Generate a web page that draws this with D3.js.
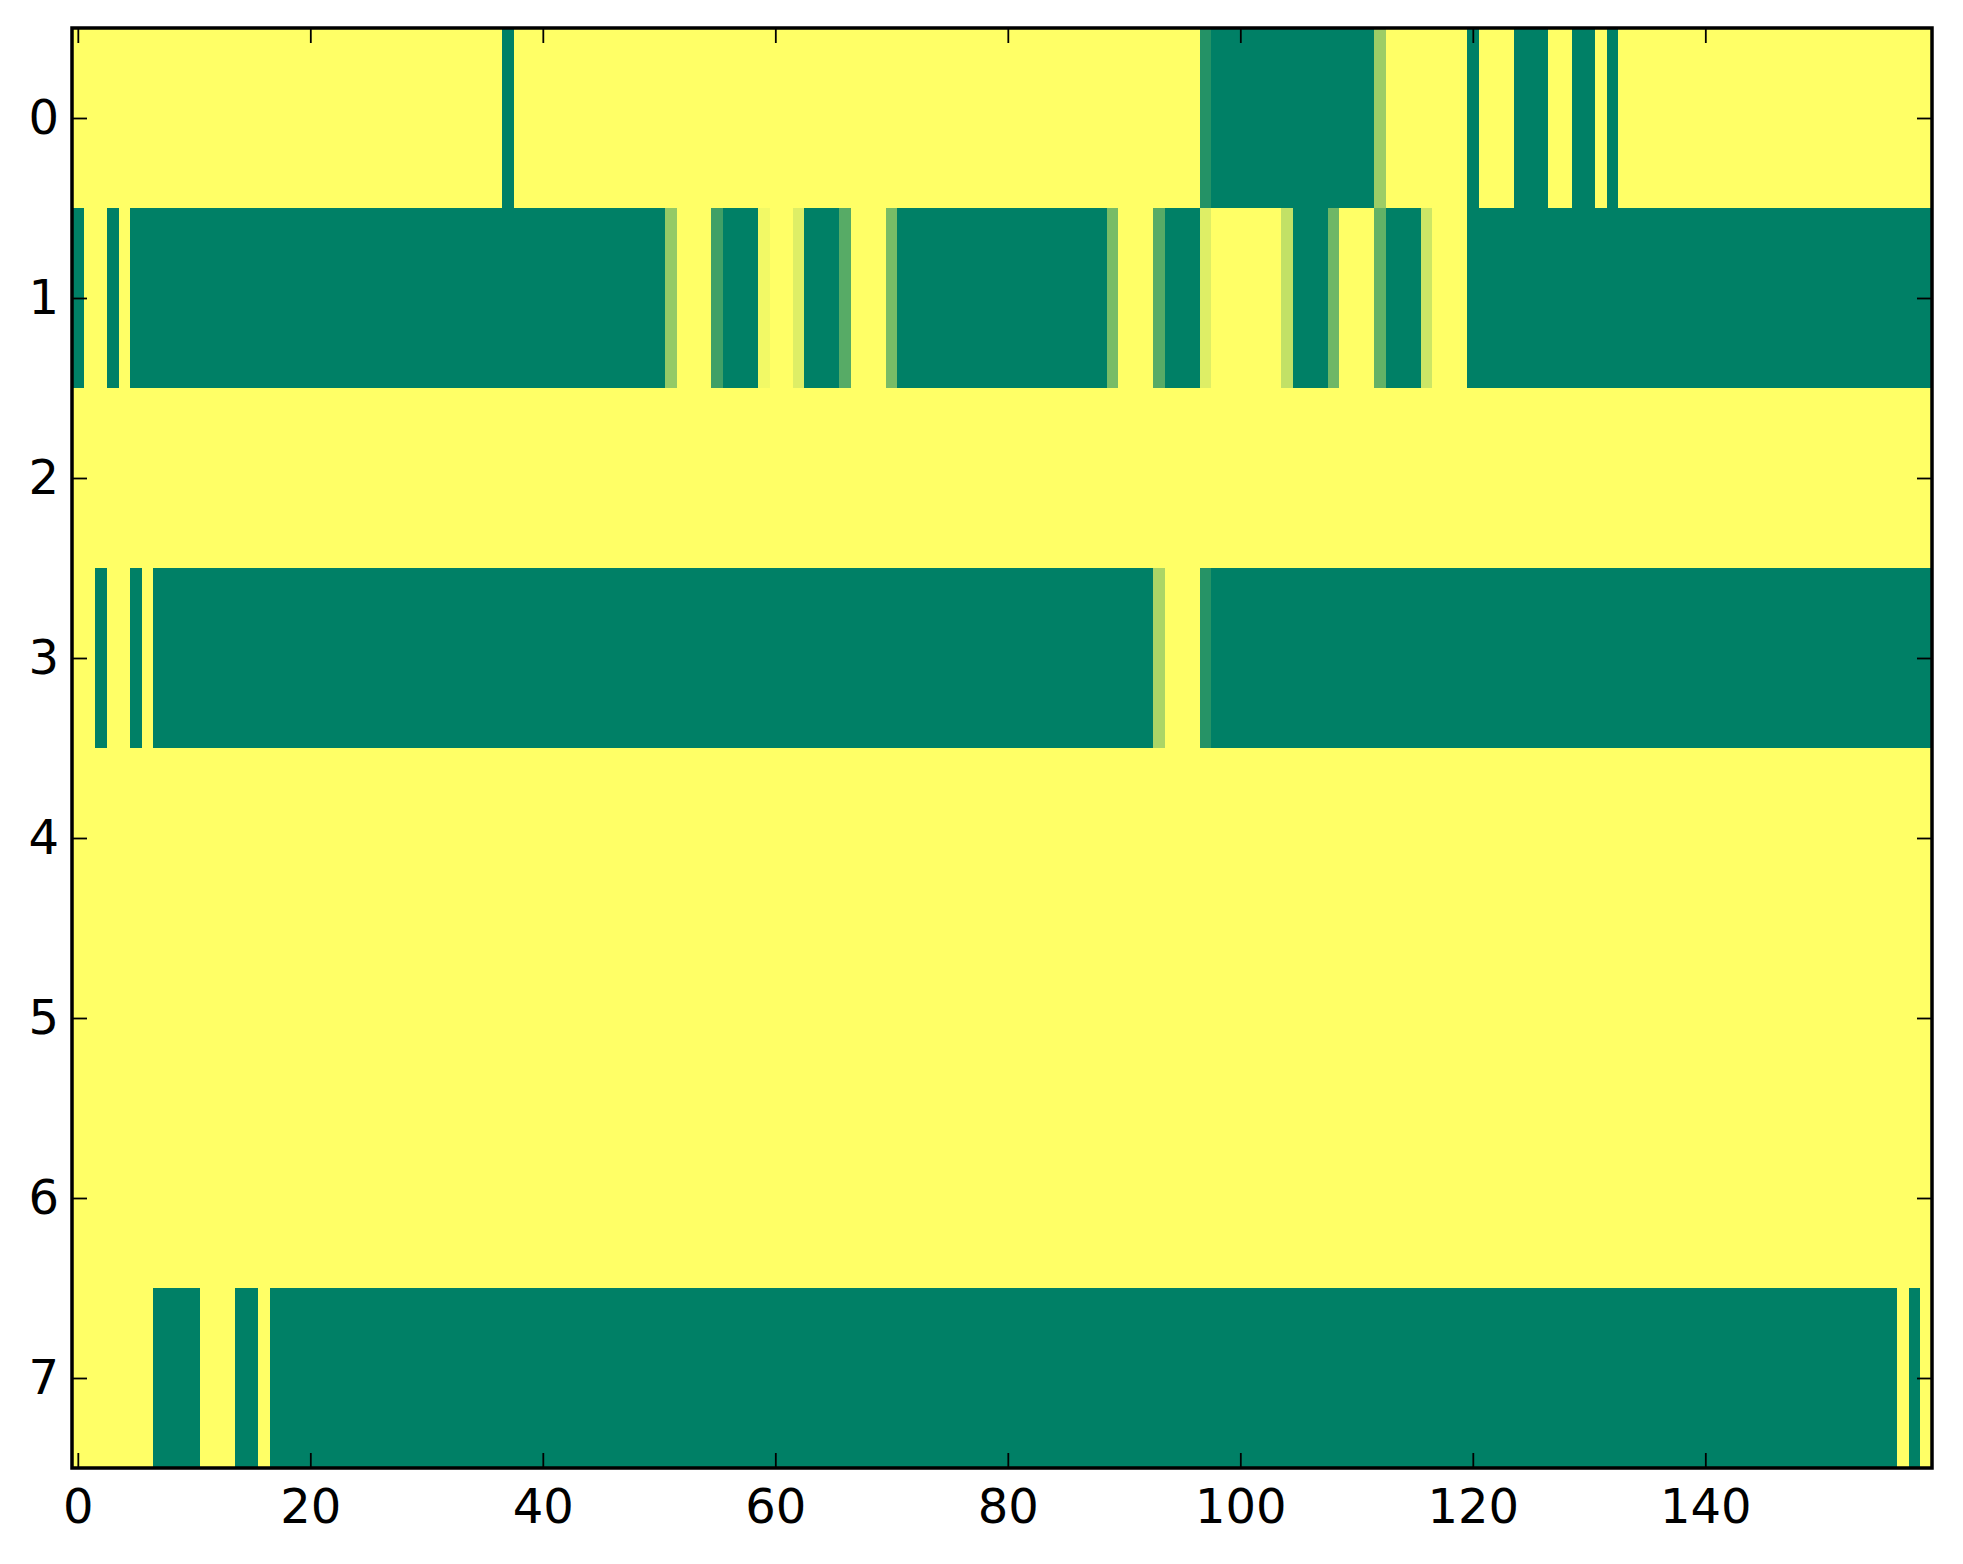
<!DOCTYPE html>
<html>
<head>
<meta charset="utf-8">
<script src="https://cdn.jsdelivr.net/npm/d3@7"></script>
<style>
  html, body { margin: 0; padding: 0; background: #fff; }
  svg { display: block; }
  text { font-family: "DejaVu Sans", sans-serif; }
</style>
</head>
<body>
<svg id="chart" width="1963" height="1564"></svg>
<script>
// ---- data (0 = green, 1 = yellow) ----
const rowLabels = [0, 1, 2, 3, 4, 5, 6, 7];
const xTickValues = [0, 20, 40, 60, 80, 100, 120, 140];
const nCols = 160;

const row0 = [
  1,1,1,1,1,1,1,1,1,1, 1,1,1,1,1,1,1,1,1,1,
  1,1,1,1,1,1,1,1,1,1, 1,1,1,1,1,1,1,0,1,1,
  1,1,1,1,1,1,1,1,1,1, 1,1,1,1,1,1,1,1,1,1,
  1,1,1,1,1,1,1,1,1,1, 1,1,1,1,1,1,1,1,1,1,
  1,1,1,1,1,1,1,1,1,1, 1,1,1,1,1,1,1,0.14,0,0,
  0,0,0,0,0,0,0,0,0,0, 0,0,0.61,1,1,1,1,1,1,1,
  0,1,1,1,0,0,0,1,1,0, 0,1,0,1,1,1,1,1,1,1,
  1,1,1,1,1,1,1,1,1,1, 1,1,1,1,1,1,1,1,1,1
];
const row1 = [
  0,1,1,0,1,0,0,0,0,0, 0,0,0,0,0,0,0,0,0,0,
  0,0,0,0,0,0,0,0,0,0, 0,0,0,0,0,0,0,0,0,0,
  0,0,0,0,0,0,0,0,0,0, 0,0.58,1,1,1,0.25,0,0,0,0.95,
  1,1,0.87,0,0,0,0.34,1,1,1, 0.47,0,0,0,0,0,0,0,0,0,
  0,0,0,0,0,0,0,0,0,0.47, 1,1,1,0.34,0,0,0,0.87,1,1,
  1,1,1,1,0.76,0,0,0,0.43,1, 1,1,0.39,0,0,0,0.8,1,1,1,
  0,0,0,0,0,0,0,0,0,0, 0,0,0,0,0,0,0,0,0,0,
  0,0,0,0,0,0,0,0,0,0, 0,0,0,0,0,0,0,0,0,0
];
const row2 = [
  1,1,1,1,1,1,1,1,1,1, 1,1,1,1,1,1,1,1,1,1,
  1,1,1,1,1,1,1,1,1,1, 1,1,1,1,1,1,1,1,1,1,
  1,1,1,1,1,1,1,1,1,1, 1,1,1,1,1,1,1,1,1,1,
  1,1,1,1,1,1,1,1,1,1, 1,1,1,1,1,1,1,1,1,1,
  1,1,1,1,1,1,1,1,1,1, 1,1,1,1,1,1,1,1,1,1,
  1,1,1,1,1,1,1,1,1,1, 1,1,1,1,1,1,1,1,1,1,
  1,1,1,1,1,1,1,1,1,1, 1,1,1,1,1,1,1,1,1,1,
  1,1,1,1,1,1,1,1,1,1, 1,1,1,1,1,1,1,1,1,1
];
const row3 = [
  1,1,0,1,1,0,1,0,0,0, 0,0,0,0,0,0,0,0,0,0,
  0,0,0,0,0,0,0,0,0,0, 0,0,0,0,0,0,0,0,0,0,
  0,0,0,0,0,0,0,0,0,0, 0,0,0,0,0,0,0,0,0,0,
  0,0,0,0,0,0,0,0,0,0, 0,0,0,0,0,0,0,0,0,0,
  0,0,0,0,0,0,0,0,0,0, 0,0,0,0.67,1,1,1,0.15,0,0,
  0,0,0,0,0,0,0,0,0,0, 0,0,0,0,0,0,0,0,0,0,
  0,0,0,0,0,0,0,0,0,0, 0,0,0,0,0,0,0,0,0,0,
  0,0,0,0,0,0,0,0,0,0, 0,0,0,0,0,0,0,0,0,0
];
const row4 = [
  1,1,1,1,1,1,1,1,1,1, 1,1,1,1,1,1,1,1,1,1,
  1,1,1,1,1,1,1,1,1,1, 1,1,1,1,1,1,1,1,1,1,
  1,1,1,1,1,1,1,1,1,1, 1,1,1,1,1,1,1,1,1,1,
  1,1,1,1,1,1,1,1,1,1, 1,1,1,1,1,1,1,1,1,1,
  1,1,1,1,1,1,1,1,1,1, 1,1,1,1,1,1,1,1,1,1,
  1,1,1,1,1,1,1,1,1,1, 1,1,1,1,1,1,1,1,1,1,
  1,1,1,1,1,1,1,1,1,1, 1,1,1,1,1,1,1,1,1,1,
  1,1,1,1,1,1,1,1,1,1, 1,1,1,1,1,1,1,1,1,1
];
const row5 = [
  1,1,1,1,1,1,1,1,1,1, 1,1,1,1,1,1,1,1,1,1,
  1,1,1,1,1,1,1,1,1,1, 1,1,1,1,1,1,1,1,1,1,
  1,1,1,1,1,1,1,1,1,1, 1,1,1,1,1,1,1,1,1,1,
  1,1,1,1,1,1,1,1,1,1, 1,1,1,1,1,1,1,1,1,1,
  1,1,1,1,1,1,1,1,1,1, 1,1,1,1,1,1,1,1,1,1,
  1,1,1,1,1,1,1,1,1,1, 1,1,1,1,1,1,1,1,1,1,
  1,1,1,1,1,1,1,1,1,1, 1,1,1,1,1,1,1,1,1,1,
  1,1,1,1,1,1,1,1,1,1, 1,1,1,1,1,1,1,1,1,1
];
const row6 = [
  1,1,1,1,1,1,1,1,1,1, 1,1,1,1,1,1,1,1,1,1,
  1,1,1,1,1,1,1,1,1,1, 1,1,1,1,1,1,1,1,1,1,
  1,1,1,1,1,1,1,1,1,1, 1,1,1,1,1,1,1,1,1,1,
  1,1,1,1,1,1,1,1,1,1, 1,1,1,1,1,1,1,1,1,1,
  1,1,1,1,1,1,1,1,1,1, 1,1,1,1,1,1,1,1,1,1,
  1,1,1,1,1,1,1,1,1,1, 1,1,1,1,1,1,1,1,1,1,
  1,1,1,1,1,1,1,1,1,1, 1,1,1,1,1,1,1,1,1,1,
  1,1,1,1,1,1,1,1,1,1, 1,1,1,1,1,1,1,1,1,1
];
const row7 = [
  1,1,1,1,1,1,1,0,0,0, 0,1,1,1,0,0,1,0,0,0,
  0,0,0,0,0,0,0,0,0,0, 0,0,0,0,0,0,0,0,0,0,
  0,0,0,0,0,0,0,0,0,0, 0,0,0,0,0,0,0,0,0,0,
  0,0,0,0,0,0,0,0,0,0, 0,0,0,0,0,0,0,0,0,0,
  0,0,0,0,0,0,0,0,0,0, 0,0,0,0,0,0,0,0,0,0,
  0,0,0,0,0,0,0,0,0,0, 0,0,0,0,0,0,0,0,0,0,
  0,0,0,0,0,0,0,0,0,0, 0,0,0,0,0,0,0,0,0,0,
  0,0,0,0,0,0,0,0,0,0, 0,0,0,0,0,0,0,1,0,1
];
const rows = [row0, row1, row2, row3, row4, row5, row6, row7];

// ---- layout ----
const W = 1963, H = 1564;
const plot = { left: 72, right: 1932, top: 28, bottom: 1468 };

const svg = d3.select("#chart");

const x = d3.scaleLinear().domain([-0.5, nCols - 0.5]).range([plot.left, plot.right]);
const y = d3.scaleLinear().domain([-0.5, rowLabels.length - 0.5]).range([plot.top, plot.bottom]);
// matplotlib "summer" colormap: (0, 0.5, 0.4) -> (1, 1, 0.4)
const color = d3.scaleLinear().domain([0, 1]).range(["rgb(0,128,102)", "rgb(255,255,102)"]);

const cells = [];
rows.forEach((r, ri) => r.forEach((v, ci) => cells.push({ row: ri, col: ci, v })));

svg.append("g")
  .attr("shape-rendering", "crispEdges")
  .selectAll("rect")
  .data(cells)
  .join("rect")
  .attr("x", d => x(d.col - 0.5))
  .attr("y", d => y(d.row - 0.5))
  .attr("width", d => x(d.col + 0.5) - x(d.col - 0.5) + 0.6)
  .attr("height", d => y(d.row + 0.5) - y(d.row - 0.5) + 0.6)
  .attr("fill", d => color(d.v));

// ---- axes (inward ticks on all four sides) ----
const tickLen = 15;
const fontSize = 48;

function styleAxis(g) {
  g.select(".domain").remove();
  g.selectAll(".tick line").attr("stroke", "#000").attr("stroke-width", 1.8);
  g.selectAll(".tick text").attr("fill", "#000").style("font-size", fontSize + "px")
    .style("font-family", "'DejaVu Sans', sans-serif");
}

svg.append("g")
  .attr("transform", `translate(0,${plot.bottom})`)
  .call(d3.axisBottom(x).tickValues(xTickValues).tickFormat(d3.format("d"))
    .tickSizeInner(-tickLen).tickSizeOuter(0).tickPadding(20))
  .call(styleAxis)
  .call(g => g.selectAll(".tick text").attr("dy", "0.72em"));

svg.append("g")
  .attr("transform", `translate(0,${plot.top})`)
  .call(d3.axisTop(x).tickValues(xTickValues).tickFormat("")
    .tickSizeInner(-tickLen).tickSizeOuter(0))
  .call(styleAxis);

svg.append("g")
  .attr("transform", `translate(${plot.left},0)`)
  .call(d3.axisLeft(y).tickValues(rowLabels).tickFormat(d3.format("d"))
    .tickSizeInner(-tickLen).tickSizeOuter(0).tickPadding(13))
  .call(styleAxis);

svg.append("g")
  .attr("transform", `translate(${plot.right},0)`)
  .call(d3.axisRight(y).tickValues(rowLabels).tickFormat("")
    .tickSizeInner(-tickLen).tickSizeOuter(0))
  .call(styleAxis);

// frame
svg.append("rect")
  .attr("x", plot.left)
  .attr("y", plot.top)
  .attr("width", plot.right - plot.left)
  .attr("height", plot.bottom - plot.top)
  .attr("fill", "none")
  .attr("stroke", "#000")
  .attr("stroke-width", 3.5);
</script>
</body>
</html>
